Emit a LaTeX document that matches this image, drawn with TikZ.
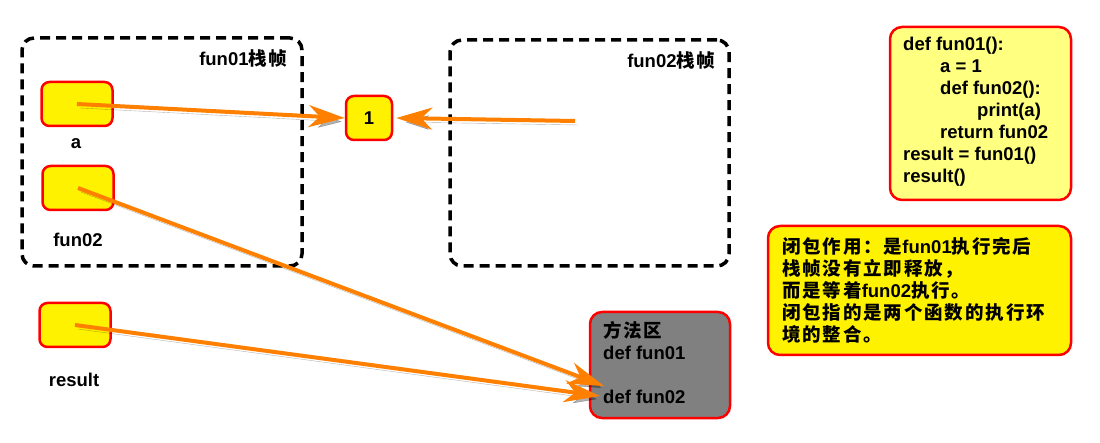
\documentclass[tikz,border=0pt]{standalone}
\usepackage{fontspec}
\setmainfont{Liberation Sans}
\newfontfamily\zh{Noto Sans CJK SC}[LetterSpace=10]
\newcommand{\zhs}[1]{{\zh #1}}
\usetikzlibrary{arrows.meta,positioning}
\definecolor{ptrorange}{RGB}{255,128,0}
\definecolor{codeyellow}{RGB}{255,255,128}
\definecolor{methodgray}{RGB}{128,128,128}

\begin{document}
\begin{tikzpicture}[x=1pt,y=-1pt,
		font=\fontsize{18.5}{22}\selectfont\bfseries,
		frame/.style={draw=black,line width=3.5pt,dash pattern=on 10pt off 6pt,rounded corners=12pt},
		var/.style={draw=red,fill=yellow,line width=2.5pt,rounded corners=8pt,minimum width=71pt,minimum height=44pt,inner sep=0pt},
		textbox/.style={draw=red,line width=2.5pt,rounded corners=12pt},
		ptr/.style={draw=ptrorange,line width=4pt,-{Stealth[length=36pt,width=22pt,inset=11pt]},
			preaction={draw=black,opacity=.3,transform canvas={shift={(3pt,-4pt)}}}}]
	\useasboundingbox (0,0) rectangle (1100,443);

	% stack frames
	\node[frame,minimum width=280pt,minimum height=228pt] (frame01) at (162,152) {};
	\node[anchor=east] (frame01lab) at (291,58) {fun01\zhs{栈帧}};
	\node[frame,minimum width=279pt,minimum height=226pt] (frame02) at (589.5,153) {};
	\node[anchor=east] (frame02lab) at (719,60) {fun02\zhs{栈帧}};

	% variables
	\node[var] (a) at (77,104) {};
	\node (alab) at (76,144) {a};
	\node[var] (fun02) at (78,188) {};
	\node (fun02lab) at (78,240) {fun02};
	\node[var] (result) at (75,325) {};
	\node (resultlab) at (74,380) {result};
	\node[var,minimum width=46pt] (one) at (369,118) {1};

	% method area
	\node[textbox,fill=methodgray,minimum width=140pt,minimum height=106pt] (method) at (660,365) {};
	\node[anchor=north west,align=left,inner sep=0pt] (methodtxt) at (603,321)
		{\zhs{方法区}\\def fun01\\ \\def fun02};

	% code and note
	\node[textbox,fill=codeyellow,minimum width=181pt,minimum height=173pt] (code) at (980.5,113.5) {};
	\node[anchor=north west,align=left,inner sep=0pt] (codetxt) at (903,37)
		{def fun01():\\
		\hspace*{37pt}a = 1\\
		\hspace*{37pt}def fun02():\\
		\hspace*{74pt}print(a)\\
		\hspace*{37pt}return fun02\\
		result = fun01()\\
		result()};
	\node[textbox,fill=yellow,minimum width=303pt,minimum height=129pt] (note) at (919.5,290.5) {};
	\node[anchor=north west,align=left,inner sep=0pt] (notetxt) at (782,237)
		{\zhs{闭包作用：是}fun01\zhs{执行完后}\\
		\zhs{栈帧没有立即释放，}\\
		\zhs{而是等着}fun02\zhs{执行。}\\
		\zhs{闭包指的是两个函数的执行环}\\
		\zhs{境的整合。}};

	% pointers
	\coordinate (inner02) at (575,121);
	\coordinate (def02a) at (604,386);
	\coordinate (def02b) at (600,396);
	\draw[ptr] (a.center) -- (one.west);
	\draw[ptr] (inner02) -- ([xshift=3pt]one.east);
	\draw[ptr] (fun02.center) -- (def02a);
	\draw[ptr] (result.center) -- (def02b);
\end{tikzpicture}
\end{document}
